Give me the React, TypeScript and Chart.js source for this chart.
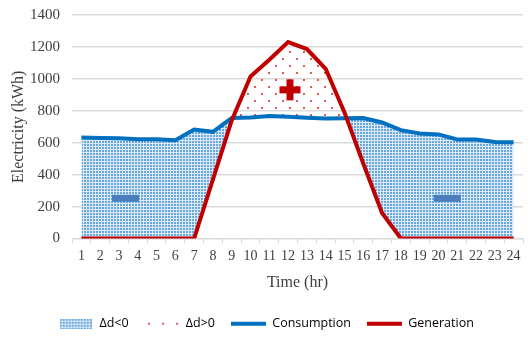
import React, { useEffect, useRef } from "react";
import { Chart, registerables } from "chart.js";

Chart.register(...registerables);

const hours = ["1","2","3","4","5","6","7","8","9","10","11","12","13","14","15","16","17","18","19","20","21","22","23","24"];
const consumption = [632, 630, 628, 622, 622, 616, 683, 668, 755, 758, 768, 762, 757, 752, 753, 755, 727, 679, 658, 652, 620, 620, 605, 603];
const generation = [0, 0, 0, 0, 0, 0, 0, 370, 740, 1015, 1120, 1230, 1187, 1063, 790, 470, 160, 0, 0, 0, 0, 0, 0, 0];
const yTicks = [0, 200, 400, 600, 800, 1000, 1200, 1400];
// sign markers: [category index (fractional), value]
const minusMarks: [number, number][] = [[2.35, 252], [19.47, 252]];
const plusMarks: [number, number][] = [[11.1, 931]];

const BLUE = "#0070C0";
const RED = "#C00000";

function makeBlueTile(): HTMLCanvasElement {
  const c = document.createElement("canvas");
  c.width = 3; c.height = 3;
  const g = c.getContext("2d")!;
  g.fillStyle = "#dbeaf8";
  g.fillRect(0, 0, 3, 3);
  g.fillStyle = "#6aa7dc";
  g.fillRect(0, 0, 2, 2);
  return c;
}
function makeRedTile(): HTMLCanvasElement {
  const c = document.createElement("canvas");
  c.width = 14; c.height = 14;
  const g = c.getContext("2d")!;
  g.fillStyle = "#e05a5a";
  g.fillRect(2, 2, 2, 2);
  g.fillRect(9, 9, 2, 2);
  return c;
}
function legendImg(tile: HTMLCanvasElement, w: number, h: number, sparse: boolean): HTMLCanvasElement {
  const c = document.createElement("canvas");
  c.width = w; c.height = h;
  const g = c.getContext("2d")!;
  if (sparse) {
    g.fillStyle = "#e05a5a";
    [4, 18, 32].forEach((x) => g.fillRect(x, h / 2 - 1, 2, 2));
  } else {
    g.fillStyle = g.createPattern(tile, "repeat")!;
    g.fillRect(0, 0, w, h);
  }
  return c;
}

const signPlugin = {
  id: "signs",
  afterDatasetsDraw(chart: any) {
    const ctx = chart.ctx;
    const xs = chart.scales.x, ys = chart.scales.y;
    ctx.save();
    ctx.fillStyle = "#4a7ebf";
    minusMarks.forEach(([i, v]) => {
      const x = xs.getPixelForValue(i), y = ys.getPixelForValue(v);
      ctx.fillRect(x - 13.5, y - 3.5, 27, 7);
    });
    ctx.fillStyle = RED;
    plusMarks.forEach(([i, v]) => {
      const x = xs.getPixelForValue(i), y = ys.getPixelForValue(v);
      ctx.fillRect(x - 10.5, y - 3.5, 21, 7);
      ctx.fillRect(x - 3.5, y - 10.5, 7, 21);
    });
    ctx.restore();
  },
};

export default function App() {
  const ref = useRef<HTMLCanvasElement>(null);
  useEffect(() => {
    document.body.style.margin = "0";
    const blueTile = makeBlueTile();
    const redTile = makeRedTile();
    const ctx = ref.current!.getContext("2d")!;
    const bluePat = ctx.createPattern(blueTile, "repeat")!;
    const redPat = ctx.createPattern(redTile, "repeat")!;
    const blueLeg = legendImg(blueTile, 32, 10, false);
    const redLeg = legendImg(redTile, 36, 10, true);

    const chart = new Chart(ref.current!, {
      type: "line",
      data: {
        labels: hours,
        datasets: [
          {
            label: "Consumption",
            data: consumption,
            borderColor: BLUE,
            borderWidth: 4,
            pointRadius: 0,
            tension: 0,
            fill: { target: 1, above: bluePat as any, below: redPat as any },
            order: 2,
          },
          {
            label: "Generation",
            data: generation,
            borderColor: RED,
            borderWidth: 4,
            pointRadius: 0,
            tension: 0,
            fill: false,
            order: 1,
          },
        ],
      },
      options: {
        animation: false,
        responsive: false,
        layout: { padding: { top: 15, right: 9, left: 9, bottom: -2 } },
        scales: {
          x: {
            offset: true,
            grid: { drawOnChartArea: false, drawTicks: true, tickLength: 5, color: "#d9d9d9", offset: true },
            border: { display: true, color: "#d9d9d9", width: 1 },
            ticks: { color: "#404040", font: { family: "Liberation Serif", size: 14 }, padding: 4, maxRotation: 0, autoSkip: false },
            title: { display: true, text: "Time (hr)", color: "#404040", font: { family: "Liberation Serif", size: 16 }, padding: { top: 5, bottom: 9 } },
          },
          y: {
            min: 0,
            max: 1400,
            afterBuildTicks: (axis: any) => { axis.ticks = yTicks.map((v) => ({ value: v })); },
            afterFit: (axis: any) => { axis.width = 63; axis.paddingTop = 0; },
            grid: { color: "#d9d9d9", lineWidth: 1.5, drawTicks: false },
            border: { display: false },
            ticks: { color: "#404040", font: { family: "Liberation Serif", size: 15 }, padding: 12, callback: (v: any) => String(v) },
            title: { display: true, text: "Electricity (kWh)", color: "#404040", font: { family: "Liberation Serif", size: 16 }, padding: { top: 0, bottom: 4 } },
          },
        },
        plugins: {
          tooltip: { enabled: false },
          legend: {
            position: "bottom",
            labels: {
              usePointStyle: true,
              pointStyleWidth: 35,
              boxHeight: 10,
              padding: 16,
              color: "#404040",
              font: { family: "Open Sans", size: 12.5 },
              generateLabels: () => [
                { text: "Δd<0", pointStyle: blueLeg, fillStyle: "transparent", strokeStyle: "transparent", lineWidth: 0, datasetIndex: 0 } as any,
                { text: "Δd>0", pointStyle: redLeg, fillStyle: "transparent", strokeStyle: "transparent", lineWidth: 0, datasetIndex: 0 } as any,
                { text: "Consumption", pointStyle: "line", fillStyle: BLUE, strokeStyle: BLUE, lineWidth: 4, datasetIndex: 0 } as any,
                { text: "Generation", pointStyle: "line", fillStyle: RED, strokeStyle: RED, lineWidth: 4, datasetIndex: 1 } as any,
              ],
            },
          },
        },
      },
      plugins: [signPlugin],
    });
    return () => chart.destroy();
  }, []);
  return <canvas ref={ref} width={532} height={338} style={{ display: "block" }} />;
}
